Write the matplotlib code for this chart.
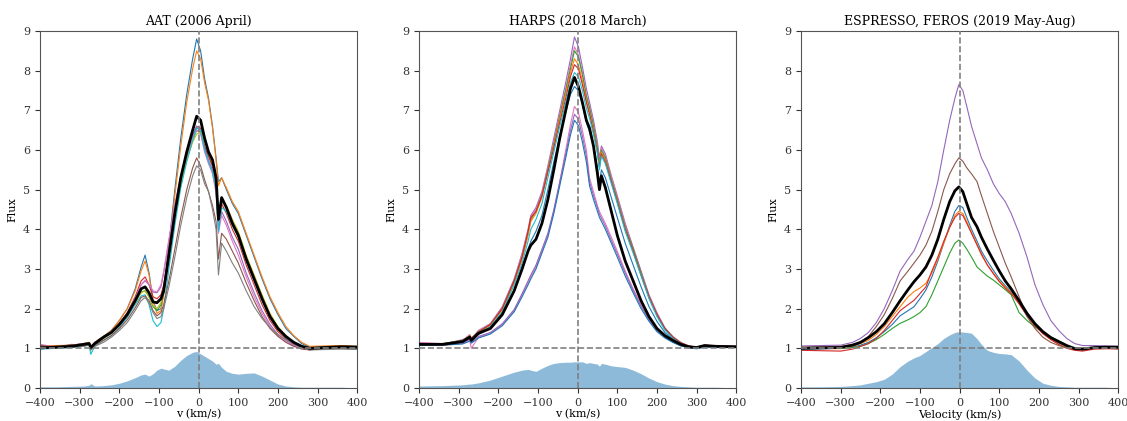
import numpy as np
import matplotlib
matplotlib.use("Agg")
import matplotlib.pyplot as plt

plt.rcParams['font.family'] = ['DejaVu Serif']
plt.rcParams['font.size'] = 8

# ---- AAT (2006 April) ----
v_aat = [-400, -360, -320, -290, -276, -272, -262, -240, -220, -200, -180, -160, -145, -135, -125, -115,
         -105, -95, -88, -75, -60, -45, -30, -15, -5, 5, 15, 25, 35, 44, 50, 58, 70, 85, 100, 120, 140,
         160, 180, 200, 220, 240, 260, 280, 320, 360, 400]
aat_blue = [1.05, 1.06, 1.08, 1.12, 1.15, 1.02, 1.15, 1.3, 1.45, 1.7, 2.0, 2.5, 3.05, 3.35, 2.9, 2.2, 1.95, 2.0,
            2.4, 3.6, 5.0, 6.3, 7.4, 8.3, 8.8, 8.5, 7.8, 7.3, 6.6, 5.8, 5.2, 5.3, 5.0, 4.65, 4.4, 3.85, 3.3,
            2.75, 2.25, 1.85, 1.5, 1.3, 1.12, 1.03, 1.05, 1.06, 1.05]
aat_orange = [1.06, 1.07, 1.08, 1.12, 1.15, 1.03, 1.15, 1.3, 1.45, 1.7, 2.0, 2.45, 2.95, 3.2, 2.85, 2.2, 1.88,
              1.95, 2.35, 3.5, 4.85, 6.1, 7.2, 8.05, 8.5, 8.3, 7.7, 7.25, 6.55, 5.75, 5.1, 5.3, 5.05, 4.7,
              4.45, 3.9, 3.35, 2.8, 2.3, 1.9, 1.55, 1.32, 1.15, 1.05, 1.06, 1.07, 1.05]
aat_green = [1.02, 1.03, 1.05, 1.09, 1.11, 0.98, 1.1, 1.25, 1.38, 1.58, 1.82, 2.15, 2.42, 2.45, 2.3, 2.05, 1.95,
             2.1, 2.4, 3.3, 4.3, 5.15, 5.75, 6.25, 6.5, 6.45, 6.05, 5.85, 5.6, 5.2, 4.3, 4.75, 4.55, 4.2,
             3.9, 3.3, 2.8, 2.3, 1.85, 1.52, 1.3, 1.15, 1.05, 0.99, 1.01, 1.02, 1.01]
aat_red = [1.05, 1.04, 1.07, 1.1, 1.13, 1.0, 1.12, 1.27, 1.4, 1.62, 1.9, 2.3, 2.7, 2.8, 2.6, 2.3, 2.25, 2.35,
           2.6, 3.45, 4.4, 5.25, 5.85, 6.35, 6.6, 6.55, 6.1, 5.85, 5.6, 5.15, 4.2, 4.65, 4.4, 4.0, 3.7, 3.1,
           2.6, 2.1, 1.7, 1.42, 1.24, 1.1, 1.02, 0.98, 1.02, 1.03, 1.02]
aat_purple = [1.03, 1.05, 1.06, 1.1, 1.12, 1.0, 1.12, 1.27, 1.42, 1.62, 1.88, 2.25, 2.6, 2.7, 2.6, 2.42, 2.4,
              2.55, 2.9, 3.7, 4.6, 5.35, 5.9, 6.35, 6.6, 6.5, 6.05, 5.75, 5.5, 5.0, 4.0, 4.45, 4.2, 3.8, 3.5,
              2.9, 2.4, 1.95, 1.6, 1.35, 1.2, 1.08, 1.01, 0.97, 1.01, 1.03, 1.02]
aat_brown = [1.08, 1.02, 1.1, 1.06, 1.1, 0.98, 1.08, 1.2, 1.32, 1.5, 1.72, 2.02, 2.28, 2.32, 2.2, 1.95, 1.82,
             1.9, 2.1, 2.7, 3.5, 4.3, 5.0, 5.55, 5.8, 5.6, 5.25, 4.95, 4.6, 4.2, 3.25, 3.9, 3.75, 3.45, 3.15,
             2.65, 2.2, 1.8, 1.5, 1.3, 1.15, 1.05, 0.98, 0.96, 1.0, 1.0, 0.98]
aat_pink = [1.1, 1.03, 1.08, 1.12, 1.1, 1.0, 1.1, 1.25, 1.4, 1.6, 1.86, 2.25, 2.6, 2.72, 2.62, 2.45, 2.42, 2.6,
            2.95, 3.75, 4.6, 5.3, 5.85, 6.3, 6.5, 6.4, 5.95, 5.65, 5.4, 4.9, 3.9, 4.35, 4.1, 3.7, 3.35, 2.8,
            2.3, 1.88, 1.55, 1.32, 1.18, 1.06, 1.0, 0.96, 1.02, 1.0, 1.03]
aat_grey = [1.0, 1.0, 1.03, 1.05, 1.08, 0.95, 1.05, 1.15, 1.28, 1.45, 1.65, 1.95, 2.2, 2.28, 2.15, 1.9, 1.75,
            1.8, 2.0, 2.55, 3.3, 4.1, 4.8, 5.35, 5.6, 5.5, 5.15, 4.95, 4.5, 4.0, 2.85, 3.65, 3.45, 3.15, 2.9,
            2.45, 2.05, 1.75, 1.52, 1.35, 1.22, 1.12, 1.02, 0.96, 0.97, 0.98, 0.97]
aat_olive = [1.02, 1.04, 1.05, 1.09, 1.11, 0.99, 1.1, 1.25, 1.38, 1.58, 1.82, 2.15, 2.4, 2.45, 2.3, 2.08, 2.0,
             2.15, 2.45, 3.35, 4.35, 5.2, 5.75, 6.2, 6.4, 6.45, 6.2, 5.95, 5.7, 5.25, 4.35, 4.8, 4.6, 4.25,
             3.95, 3.35, 2.85, 2.35, 1.88, 1.55, 1.32, 1.16, 1.06, 1.0, 1.02, 1.02, 1.01]
aat_cyan = [0.98, 1.0, 1.02, 1.06, 1.08, 0.85, 1.05, 1.2, 1.32, 1.52, 1.78, 2.1, 2.32, 2.35, 2.1, 1.7, 1.55,
            1.65, 2.0, 3.0, 4.1, 5.05, 5.7, 6.25, 6.55, 6.5, 6.0, 5.7, 5.45, 5.0, 3.95, 4.55, 4.45, 4.1, 3.8,
            3.2, 2.7, 2.2, 1.78, 1.48, 1.27, 1.12, 1.03, 0.98, 1.0, 1.0, 0.99]
aat_mean = [1.01, 1.03, 1.05, 1.10, 1.12, 1.02, 1.12, 1.28, 1.40, 1.60, 1.85, 2.20, 2.50, 2.55, 2.40, 2.17,
            2.15, 2.25, 2.45, 3.35, 4.40, 5.30, 5.95, 6.50, 6.85, 6.75, 6.30, 5.95, 5.75, 5.30, 4.25, 4.80,
            4.55, 4.15, 3.85, 3.25, 2.75, 2.25, 1.80, 1.50, 1.30, 1.15, 1.05, 1.00, 1.02, 1.04, 1.03]
aat_var = [0.03, 0.03, 0.04, 0.05, 0.07, 0.11, 0.05, 0.06, 0.08, 0.12, 0.18, 0.26, 0.33, 0.35, 0.30, 0.36,
           0.45, 0.50, 0.48, 0.45, 0.55, 0.70, 0.82, 0.90, 0.92, 0.86, 0.80, 0.74, 0.68, 0.60, 0.62, 0.52,
           0.42, 0.37, 0.35, 0.37, 0.38, 0.30, 0.20, 0.10, 0.05, 0.03, 0.02, 0.02, 0.02, 0.02, 0.0]

# ---- HARPS (2018 March) ----
v_harps = [-400, -340, -290, -272, -268, -250, -220, -190, -160, -140, -125, -118, -105, -90, -75, -60, -45,
           -30, -18, -8, 2, 12, 22, 30, 40, 50, 55, 60, 70, 85, 100, 120, 140, 160, 180, 200, 220, 240,
           260, 280, 300, 320, 350, 400]
harps_purple = [1.12, 1.1, 1.22, 1.3, 1.22, 1.45, 1.62, 2.05, 2.75, 3.4, 4.0, 4.35, 4.55, 4.95, 5.6, 6.3, 7.0,
                7.7, 8.3, 8.85, 8.6, 8.1, 7.55, 7.2, 6.75, 6.2, 5.8, 6.1, 5.9, 5.35, 4.85, 4.15, 3.55, 2.95,
                2.35, 1.9, 1.52, 1.3, 1.15, 1.06, 1.03, 1.08, 1.06, 1.05]
harps_pink = [1.15, 1.12, 1.2, 1.35, 1.25, 1.45, 1.62, 2.02, 2.72, 3.35, 3.95, 4.33, 4.5, 4.9, 5.55, 6.2, 6.9,
              7.55, 8.15, 8.6, 8.4, 7.95, 7.4, 7.1, 6.65, 6.1, 5.7, 6.05, 5.85, 5.3, 4.8, 4.1, 3.5, 2.92,
              2.32, 1.88, 1.5, 1.28, 1.14, 1.05, 1.02, 1.07, 1.05, 1.04]
harps_green = [1.1, 1.12, 1.2, 1.32, 1.26, 1.42, 1.6, 2.0, 2.7, 3.3, 3.9, 4.25, 4.45, 4.85, 5.5, 6.15, 6.85,
               7.5, 8.05, 8.5, 8.35, 7.9, 7.35, 7.05, 6.6, 6.05, 5.65, 6.0, 5.8, 5.25, 4.75, 4.05, 3.5, 2.9,
               2.3, 1.85, 1.5, 1.28, 1.14, 1.05, 1.02, 1.07, 1.05, 1.04]
harps_orange = [1.1, 1.1, 1.18, 1.3, 1.24, 1.4, 1.58, 1.97, 2.65, 3.25, 3.85, 4.2, 4.4, 4.8, 5.45, 6.1, 6.8,
                7.4, 7.95, 8.3, 8.15, 7.75, 7.25, 6.95, 6.5, 5.95, 5.6, 5.95, 5.75, 5.2, 4.7, 4.0, 3.45, 2.85,
                2.28, 1.83, 1.48, 1.27, 1.13, 1.05, 1.02, 1.06, 1.05, 1.04]
harps_red = [1.12, 1.11, 1.19, 1.31, 1.25, 1.41, 1.6, 2.0, 2.7, 3.3, 3.95, 4.3, 4.45, 4.85, 5.45, 6.05, 6.7,
             7.3, 7.85, 8.15, 8.05, 7.65, 7.2, 6.9, 6.45, 5.95, 5.55, 5.9, 5.7, 5.2, 4.7, 4.0, 3.45, 2.85,
             2.3, 1.85, 1.5, 1.28, 1.14, 1.06, 1.03, 1.08, 1.06, 1.05]
harps_cyan = [1.08, 1.1, 1.17, 1.28, 1.22, 1.38, 1.55, 1.92, 2.6, 3.15, 3.7, 4.0, 4.25, 4.65, 5.3, 5.95, 6.6,
              7.2, 7.7, 7.95, 7.85, 7.5, 7.05, 6.8, 6.4, 5.9, 5.5, 5.85, 5.65, 5.15, 4.65, 3.95, 3.4, 2.82,
              2.25, 1.8, 1.46, 1.25, 1.12, 1.04, 1.01, 1.05, 1.04, 1.03]
harps_blue = [1.08, 1.09, 1.15, 1.25, 1.2, 1.35, 1.5, 1.85, 2.45, 3.0, 3.5, 3.7, 3.95, 4.35, 5.0, 5.7, 6.35,
              6.95, 7.4, 7.6, 7.5, 7.15, 6.7, 6.45, 6.1, 5.55, 5.15, 5.5, 5.3, 4.8, 4.3, 3.65, 3.1, 2.55,
              2.05, 1.68, 1.4, 1.22, 1.1, 1.03, 1.0, 1.05, 1.04, 1.03]
harps_low_pink = [1.08, 1.08, 1.12, 1.2, 1.0, 1.28, 1.38, 1.6, 1.95, 2.35, 2.65, 2.8, 3.05, 3.45, 3.85, 4.45,
                  5.2, 6.0, 6.65, 7.1, 6.95, 6.5, 6.0, 5.3, 4.95, 4.6, 4.45, 4.35, 4.15, 3.8, 3.45, 2.95,
                  2.5, 2.1, 1.75, 1.47, 1.3, 1.17, 1.08, 1.02, 1.0, 1.04, 1.03, 1.03]
harps_low_purple = [1.1, 1.1, 1.14, 1.22, 1.15, 1.3, 1.4, 1.62, 1.98, 2.38, 2.7, 2.85, 3.1, 3.5, 3.9, 4.5,
                    5.2, 5.9, 6.5, 6.9, 6.78, 6.35, 5.85, 5.2, 4.85, 4.55, 4.38, 4.28, 4.08, 3.72, 3.38, 2.9,
                    2.46, 2.06, 1.72, 1.45, 1.28, 1.16, 1.07, 1.02, 1.0, 1.04, 1.03, 1.02]
harps_low_blue = [1.07, 1.08, 1.11, 1.18, 1.13, 1.26, 1.36, 1.57, 1.92, 2.3, 2.6, 2.75, 3.0, 3.4, 3.8, 4.4,
                  5.1, 5.8, 6.38, 6.75, 6.62, 6.2, 5.7, 5.1, 4.75, 4.45, 4.3, 4.2, 4.0, 3.65, 3.3, 2.82, 2.4,
                  2.0, 1.68, 1.42, 1.26, 1.15, 1.06, 1.01, 0.99, 1.03, 1.02, 1.02]
harps_mean = [1.1, 1.1, 1.17, 1.28, 1.2, 1.38, 1.5, 1.85, 2.45, 3.0, 3.45, 3.6, 3.75, 4.15, 4.75, 5.5, 6.3,
              7.0, 7.55, 7.83, 7.6, 7.2, 6.75, 6.55, 6.1, 5.4, 5.0, 5.35, 5.05, 4.45, 3.85, 3.2, 2.7, 2.2,
              1.8, 1.5, 1.32, 1.2, 1.1, 1.04, 1.02, 1.07, 1.05, 1.04]
harps_var = [0.05, 0.06, 0.08, 0.1, 0.1, 0.13, 0.2, 0.3, 0.4, 0.45, 0.47, 0.45, 0.42, 0.5, 0.57, 0.62, 0.64,
             0.65, 0.65, 0.66, 0.66, 0.66, 0.62, 0.64, 0.62, 0.6, 0.55, 0.62, 0.6, 0.56, 0.54, 0.52, 0.45,
             0.36, 0.25, 0.16, 0.1, 0.06, 0.04, 0.03, 0.02, 0.02, 0.02, 0.0]

# ---- ESPRESSO, FEROS (2019 May-Aug) ----
v_esp = [-400, -350, -300, -270, -250, -230, -210, -190, -170, -150, -130, -115, -100, -85, -70, -55, -40,
         -25, -12, -2, 8, 18, 30, 44, 55, 70, 85, 100, 115, 130, 150, 170, 190, 210, 230, 250, 270, 290,
         310, 340, 370, 400]
esp_blue = [0.98, 0.99, 1.0, 1.03, 1.08, 1.15, 1.27, 1.42, 1.6, 1.82, 1.95, 2.05, 2.25, 2.47, 2.8, 3.2, 3.65,
            4.1, 4.45, 4.6, 4.55, 4.3, 4.0, 3.7, 3.45, 3.2, 2.97, 2.75, 2.58, 2.42, 2.15, 1.82, 1.58, 1.38,
            1.24, 1.13, 1.05, 1.0, 0.98, 1.01, 1.02, 1.01]
esp_orange = [1.0, 1.0, 0.99, 1.05, 1.12, 1.2, 1.35, 1.55, 1.8, 2.05, 2.3, 2.43, 2.52, 2.64, 2.9, 3.25, 3.65,
              4.05, 4.35, 4.45, 4.4, 4.2, 3.92, 3.62, 3.35, 3.1, 2.9, 2.7, 2.55, 2.4, 2.15, 1.84, 1.58,
              1.38, 1.22, 1.1, 1.02, 0.97, 0.96, 1.0, 1.01, 1.0]
esp_green = [1.0, 1.0, 1.0, 1.02, 1.05, 1.12, 1.22, 1.35, 1.5, 1.63, 1.72, 1.8, 1.9, 2.05, 2.35, 2.7, 3.05,
             3.4, 3.65, 3.73, 3.65, 3.5, 3.3, 3.05, 2.95, 2.82, 2.72, 2.6, 2.48, 2.35, 1.9, 1.7, 1.54, 1.4,
             1.29, 1.18, 1.08, 1.02, 1.0, 1.02, 1.02, 1.01]
esp_red = [0.95, 0.94, 0.93, 0.98, 1.05, 1.12, 1.25, 1.45, 1.7, 1.95, 2.1, 2.21, 2.38, 2.55, 2.95, 3.3, 3.7,
           4.05, 4.3, 4.4, 4.35, 4.15, 3.9, 3.6, 3.38, 3.1, 2.88, 2.68, 2.52, 2.38, 2.12, 1.82, 1.57, 1.37,
           1.22, 1.1, 1.0, 0.95, 0.93, 0.98, 0.99, 0.98]
esp_purple = [1.06, 1.07, 1.08, 1.15, 1.25, 1.4, 1.65, 2.0, 2.45, 2.95, 3.25, 3.45, 3.8, 4.2, 4.6, 5.2, 6.0,
              6.75, 7.3, 7.65, 7.5, 7.1, 6.6, 6.15, 5.8, 5.5, 5.15, 4.9, 4.7, 4.4, 3.9, 3.3, 2.6, 2.1, 1.7,
              1.45, 1.25, 1.12, 1.07, 1.07, 1.06, 1.05]
esp_brown = [1.03, 1.04, 1.05, 1.1, 1.15, 1.3, 1.55, 1.85, 2.25, 2.7, 2.95, 3.15, 3.35, 3.6, 3.95, 4.45, 5.0,
             5.4, 5.65, 5.8, 5.72, 5.55, 5.4, 5.2, 4.85, 4.4, 3.95, 3.55, 3.15, 2.8, 2.3, 1.8, 1.5, 1.28,
             1.15, 1.07, 1.02, 1.0, 1.0, 1.02, 1.02, 1.01]
esp_mean = [1.0, 1.01, 1.02, 1.08, 1.15, 1.27, 1.42, 1.62, 1.9, 2.2, 2.48, 2.68, 2.85, 3.05, 3.35, 3.75, 4.25,
            4.7, 4.97, 5.07, 4.95, 4.65, 4.3, 4.06, 3.8, 3.5, 3.22, 2.95, 2.7, 2.5, 2.2, 1.88, 1.62, 1.42,
            1.27, 1.17, 1.07, 0.99, 0.98, 1.02, 1.03, 1.03]
esp_var = [0.03, 0.03, 0.04, 0.06, 0.08, 0.12, 0.16, 0.22, 0.35, 0.54, 0.68, 0.76, 0.82, 0.92, 1.02, 1.12,
           1.25, 1.34, 1.4, 1.42, 1.41, 1.4, 1.38, 1.24, 1.1, 0.95, 0.9, 0.87, 0.86, 0.84, 0.68, 0.45, 0.25,
           0.12, 0.07, 0.04, 0.03, 0.02, 0.02, 0.02, 0.02, 0.0]

titles = ['AAT (2006 April)', 'HARPS (2018 March)', 'ESPRESSO, FEROS (2019 May-Aug)']
xlabels = ['v (km/s)', 'v (km/s)', 'Velocity (km/s)']

panels = [
    (v_aat, [('C0', aat_blue), ('C1', aat_orange), ('C2', aat_green), ('C3', aat_red), ('C4', aat_purple),
             ('C6', aat_pink), ('C8', aat_olive), ('C9', aat_cyan), ('C5', aat_brown), ('C7', aat_grey)],
     aat_mean, aat_var),
    (v_harps, [('C4', harps_purple), ('C6', harps_pink), ('C2', harps_green), ('C1', harps_orange),
               ('C3', harps_red), ('C9', harps_cyan), ('C0', harps_blue), ('C6', harps_low_pink),
               ('C4', harps_low_purple), ('C0', harps_low_blue)],
     harps_mean, harps_var),
    (v_esp, [('C0', esp_blue), ('C1', esp_orange), ('C2', esp_green), ('C3', esp_red), ('C4', esp_purple),
             ('C5', esp_brown)],
     esp_mean, esp_var),
]

fig = plt.figure(figsize=(11.27, 4.21), dpi=100)
lefts = [40 / 1127, 419 / 1127, 801 / 1127]

for i, (v, series, mean, var) in enumerate(panels):
    ax = fig.add_axes([lefts[i], 0.0784, 0.2815, 0.848])
    ax.fill_between(v, 0, var, color='C0', alpha=0.5, linewidth=0, zorder=1)
    for color, flux in series:
        ax.plot(v, flux, color=color, lw=0.8, zorder=2)
    ax.plot(v, mean, color='black', lw=2, zorder=3)
    ax.axvline(0, color='grey', ls='--', lw=1.2, zorder=4)
    ax.axhline(1, color='grey', ls='--', lw=1.2, zorder=4)
    ax.set_xlim(-400, 400)
    ax.set_ylim(0, 9)
    ax.set_xticks(np.arange(-400, 401, 100))
    ax.set_yticks(np.arange(0, 10, 1))
    ax.set_title(titles[i], fontsize=9, pad=4)
    ax.set_xlabel(xlabels[i], fontsize=8, labelpad=1)
    ax.set_ylabel('Flux', fontsize=8)
    ax.tick_params(labelsize=8, colors='#333333', length=3.5)
    for s in ax.spines.values():
        s.set_color('#555555')

fig.savefig('out.png', dpi=100)
